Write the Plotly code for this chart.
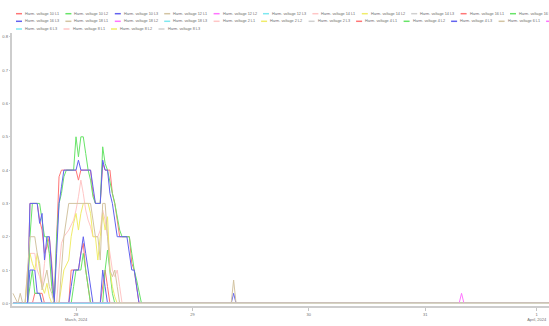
import plotly.graph_objects as go
import pandas as pd

# ---------------- data ----------------
HARMONICS = [10, 12, 14, 16, 18, 2, 4, 6, 8]
PHASES = ["L1", "L2", "L3"]
COLORS = ["#ff7676", "#68e468", "#6262ef", "#d3c4a2", "#ff74ff",
          "#7ee8f0", "#ffc6c6", "#f0ec6a", "#d0d0d0"]

SAMPLE_START = "2024-03-27 10:00"   # UTC, samples every 30 minutes
SAMPLE_MINUTES = 30

X_TICK_TIMES = ["2024-03-27 23:00", "2024-03-28 23:00", "2024-03-29 23:00",
                "2024-03-30 23:00", "2024-03-31 22:00"]
X_TICK_TEXT = ["28<br>March, 2024", "29", "30", "31", "1<br>April, 2024"]
Y_TICKS = [0.0, 0.1, 0.2, 0.3, 0.4, 0.5, 0.6, 0.7, 0.8]

# (sample index, value) pairs
H4_L1 = [(0, 0), (6, 0), (7, 0.3), (10, 0.3), (11, 0.25), (12, 0.22), (13, 0.15), (14, 0.17),
         (15, 0.2), (16, 0.12), (17, 0), (18, 0.2), (19, 0.38), (20, 0.4), (26, 0.4), (27, 0.37),
         (28, 0.4), (32, 0.4), (33, 0.33), (34, 0.3), (36, 0.3), (37, 0.42), (38, 0.4), (40, 0.4),
         (41, 0.33), (42, 0.3), (43, 0.25), (44, 0.2), (48, 0.2), (49, 0.12), (50, 0.1),
         (51, 0.05), (52, 0), (221, 0)]
H4_L2 = [(0, 0), (6, 0), (7, 0.2), (8, 0.3), (11, 0.3), (12, 0.25), (13, 0.2), (14, 0.2),
         (15, 0.15), (16, 0.05), (17, 0), (18, 0.2), (19, 0.3), (20, 0.33), (21, 0.38), (22, 0.4),
         (25, 0.4), (26, 0.5), (27, 0.44), (28, 0.5), (29, 0.5), (30, 0.45), (31, 0.4),
         (32, 0.37), (33, 0.32), (34, 0.3), (36, 0.3), (37, 0.47), (38, 0.42), (39, 0.4),
         (40, 0.36), (41, 0.33), (42, 0.3), (43, 0.26), (44, 0.22), (45, 0.2), (48, 0.2),
         (49, 0.15), (50, 0.1), (51, 0.07), (52, 0.03), (53, 0), (221, 0)]
H4_L3 = [(0, 0), (6, 0), (7, 0.3), (10, 0.3), (11, 0.24), (12, 0.27), (13, 0.13), (14, 0.2),
         (15, 0.2), (16, 0.1), (17, 0), (18, 0.15), (19, 0.3), (20, 0.35), (21, 0.4), (26, 0.4),
         (27, 0.43), (28, 0.4), (32, 0.4), (33, 0.35), (34, 0.3), (36, 0.3), (37, 0.43),
         (38, 0.4), (39, 0.4), (40, 0.33), (41, 0.3), (42, 0.25), (43, 0.2), (47, 0.2),
         (48, 0.15), (49, 0.1), (50, 0.1), (51, 0.05), (52, 0), (90, 0), (91, 0.03), (92, 0),
         (221, 0)]
H10_L1 = [(0, 0), (8, 0), (9, 0.03), (12, 0.03), (13, 0), (23, 0), (24, 0.1), (27, 0.1),
          (28, 0.15), (29, 0.18), (30, 0.1), (31, 0.05), (32, 0), (36, 0), (37, 0.05),
          (38, 0.1), (39, 0.05), (40, 0), (221, 0)]
H10_L2 = [(0, 0), (6, 0), (7, 0.05), (8, 0.1), (9, 0.03), (11, 0.03), (12, 0), (24, 0),
          (25, 0.05), (26, 0.1), (28, 0.1), (29, 0.15), (30, 0.1), (31, 0.05), (32, 0),
          (37, 0), (38, 0.1), (39, 0.16), (40, 0.1), (41, 0.03), (42, 0), (221, 0)]
H10_L3 = [(0, 0), (6, 0), (7, 0.1), (9, 0.1), (10, 0.03), (11, 0.03), (12, 0), (23, 0),
          (24, 0.05), (25, 0.1), (27, 0.1), (28, 0.15), (29, 0.2), (30, 0.15), (31, 0.1),
          (32, 0.05), (33, 0), (36, 0), (37, 0.1), (38, 0.05), (39, 0), (221, 0)]
H2_L1 = [(0, 0), (5, 0), (6, 0.1), (7, 0.15), (9, 0.15), (10, 0.1), (11, 0.08), (12, 0.05),
         (13, 0.12), (14, 0.18), (15, 0.15), (16, 0.05), (17, 0), (18, 0), (19, 0.1), (20, 0.18),
         (21, 0.2), (23, 0.22), (25, 0.25), (26, 0.28), (27, 0.32), (28, 0.37), (29, 0.33),
         (30, 0.28), (31, 0.25), (32, 0.23), (33, 0.2), (35, 0.2), (36, 0.22), (37, 0.28),
         (38, 0.25), (39, 0.2), (40, 0.15), (41, 0.1), (42, 0.08), (43, 0.1), (44, 0.05),
         (45, 0), (221, 0)]
H2_L2 = [(0, 0), (5, 0), (6, 0.08), (7, 0.15), (8, 0.12), (9, 0.1), (10, 0.15), (11, 0.1),
         (12, 0.05), (13, 0.03), (14, 0.06), (15, 0.02), (16, 0), (19, 0), (20, 0.05), (21, 0.1),
         (23, 0.13), (24, 0.2), (25, 0.24), (26, 0.27), (27, 0.22), (28, 0.27), (29, 0.3),
         (31, 0.3), (32, 0.27), (33, 0.2), (34, 0.2), (35, 0.13), (36, 0.2), (37, 0.27),
         (38, 0.22), (39, 0.26), (40, 0.1), (41, 0.05), (42, 0.02), (43, 0), (221, 0)]
H6_L1 = [(0, 0.03), (2, 0), (3, 0.03), (4, 0), (5, 0), (6, 0.1), (7, 0.2), (9, 0.2), (10, 0.15),
         (11, 0.12), (12, 0.04), (13, 0.07), (14, 0.1), (15, 0.05), (16, 0.03), (17, 0), (19, 0),
         (20, 0.1), (21, 0.2), (22, 0.25), (23, 0.3), (32, 0.3), (33, 0.25), (34, 0.2),
         (35, 0.2), (36, 0.13), (37, 0.3), (38, 0.3), (39, 0.2), (40, 0.1), (41, 0.08),
         (42, 0.1), (43, 0.05), (44, 0), (90, 0), (91, 0.07), (92, 0), (221, 0)]
H6_L2 = [(0, 0), (184, 0), (185, 0.03), (186, 0), (221, 0)]
H6_L3 = [(0, 0), (221, 0)]
ZERO_FULL = [(0, 0), (221, 0)]
ZERO_LATE = [(40, 0), (221, 0)]

SERIES_POINTS = {
    (10, "L1"): H10_L1, (10, "L2"): H10_L2, (10, "L3"): H10_L3,
    (2, "L1"): H2_L1, (2, "L2"): H2_L2,
    (4, "L1"): H4_L1, (4, "L2"): H4_L2, (4, "L3"): H4_L3,
    (6, "L1"): H6_L1, (6, "L2"): H6_L2, (6, "L3"): H6_L3,
    (8, "L1"): ZERO_LATE, (8, "L2"): ZERO_LATE, (8, "L3"): ZERO_LATE,
}

# ---------------- figure ----------------
W, H = 549, 326
ML, MR, MT, MB = 12, 0, 33, 20
PW, PH = W - ML - MR, H - MT - MB

start = pd.Timestamp(SAMPLE_START)
fig = go.Figure()
names = []
k = 0
for h in HARMONICS:
    for p in PHASES:
        name = f"Harm. voltage {h} {p}"
        names.append((name, COLORS[k % len(COLORS)]))
        pts = SERIES_POINTS.get((h, p), ZERO_FULL)
        xs = [start + pd.Timedelta(minutes=SAMPLE_MINUTES * j) for j, _ in pts]
        ys = [v for _, v in pts]
        fig.add_trace(go.Scatter(x=xs, y=ys, mode="lines", name=name,
                                 line=dict(color=COLORS[k % len(COLORS)], width=1),
                                 showlegend=False))
        k += 1

# hand-drawn legend (wrapping rows, clipped on the right like the original)
def px_to_paper(px, py):
    return (px - ML) / PW, (H - MB - py) / PH

shapes, annos = [], []
row_y = [13.7, 21.3, 29.0]
row, cx = 0, 16.0
for name, color in names:
    if cx >= W:
        row += 1
        cx = 16.0
    x0, y0 = px_to_paper(cx, row_y[row])
    x1, _ = px_to_paper(cx + 6, row_y[row])
    xt, _ = px_to_paper(cx + 8, row_y[row])
    shapes.append(dict(type="line", xref="paper", yref="paper", x0=x0, x1=x1, y0=y0, y1=y0,
                       line=dict(color=color, width=1.5)))
    annos.append(dict(text=name, xref="paper", yref="paper", x=xt, y=y0, xanchor="left",
                      yanchor="middle", showarrow=False, borderpad=0,
                      font=dict(size=3.8, color="#6e6e6e", family="Liberation Sans, Arial")))
    cx += 13.3 + 1.9 * len(name)

fig.update_layout(
    width=W, height=H,
    margin=dict(l=ML, r=MR, t=MT, b=MB, pad=0),
    paper_bgcolor="white", plot_bgcolor="white",
    showlegend=False,
    font=dict(family="Liberation Sans, Arial", size=4.2, color="#777777"),
    shapes=shapes, annotations=annos,
    xaxis=dict(type="date",
               range=["2024-03-27 09:48", "2024-04-01 00:32"],
               tickvals=X_TICK_TIMES, ticktext=X_TICK_TEXT,
               showgrid=False, zeroline=False, showline=True,
               linecolor="#cdcdcd", linewidth=2,
               ticks="outside", ticklen=3, tickcolor="#c4c4c4", tickwidth=1,
               tickfont=dict(size=4.0, color="#707070")),
    yaxis=dict(range=[-0.008, 0.8117],
               tickvals=Y_TICKS, ticktext=[f"{v:.1f}" for v in Y_TICKS],
               showgrid=False, zeroline=False, showline=True,
               linecolor="#cdcdcd", linewidth=2,
               ticks="outside", ticklen=1, tickcolor="#cdcdcd",
               tickfont=dict(size=4.2, color="#707070")),
)

fig.write_html("out.html", config={"displayModeBar": False},
               post_script="document.body.style.margin='0px';")
